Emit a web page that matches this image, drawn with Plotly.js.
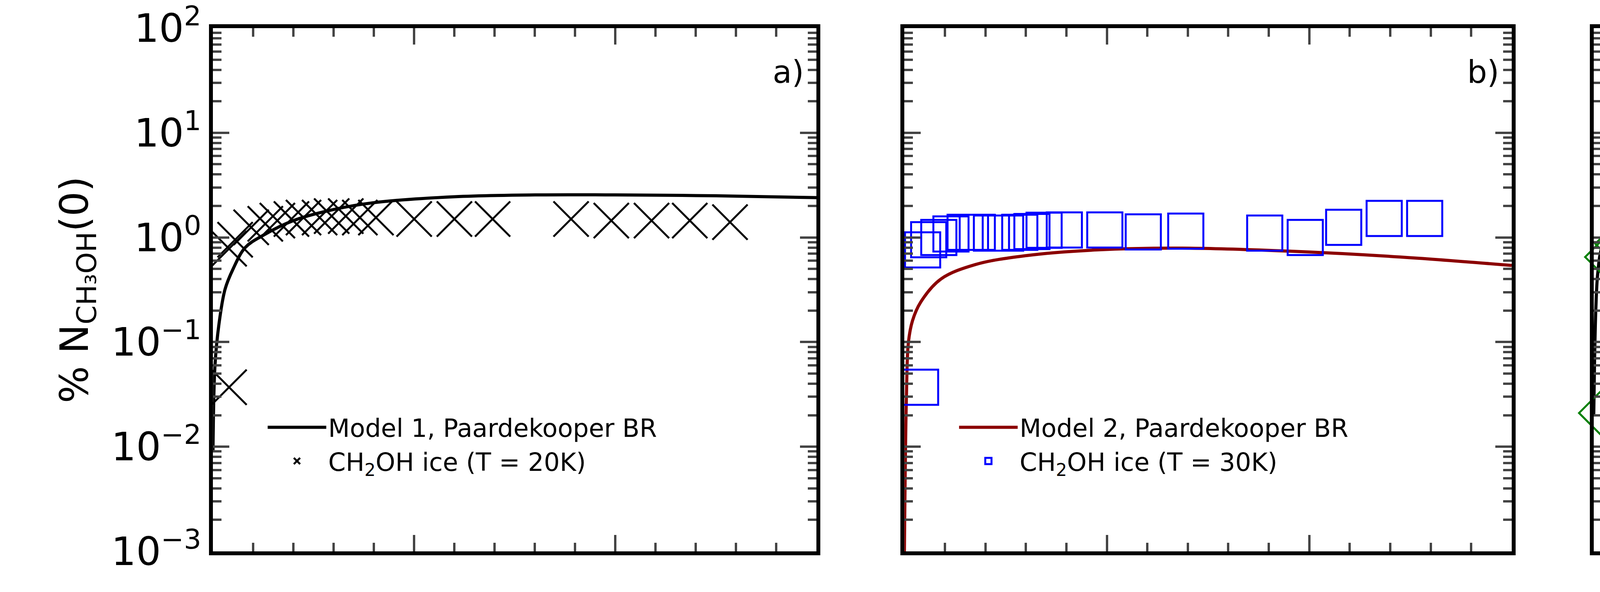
<!DOCTYPE html>
<html>
<head>
<meta charset="utf-8">
<script src="https://cdn.plot.ly/plotly-3.0.1.min.js"></script>
<style>html,body{margin:0;padding:0;background:#fff}#chart{width:7500px;height:1515px}</style>
</head>
<body>
<div id="chart"></div>
<script>
/* Four panels: model curve vs. CH2OH ice points, log y axis */

// panel a) T = 20K
const curveAx = [0, 0.01, 0.03, 0.06, 0.1, 0.16, 0.25, 0.4, 0.6, 0.8, 1.2, 1.6, 2.0, 2.5, 3.0];
const curveAy = [0.009, 0.06, 0.15, 0.32, 0.5, 0.8, 1.05, 1.45, 1.85, 2.15, 2.45, 2.55, 2.55, 2.5, 2.4];
const iceAx = [0.08, 0.08, 0.11, 0.19, 0.26, 0.32, 0.39, 0.45, 0.53, 0.59, 0.66, 0.73, 0.81, 1.0, 1.2, 1.39, 1.78, 1.98, 2.18, 2.37, 2.57];
const iceAy = [0.037, 0.78, 0.95, 1.25, 1.35, 1.45, 1.5, 1.55, 1.55, 1.6, 1.6, 1.55, 1.55, 1.5, 1.5, 1.5, 1.5, 1.45, 1.45, 1.45, 1.4];

// panel b) T = 30K
const curveBx = [0, 0.01, 0.02, 0.04, 0.08, 0.18, 0.35, 0.6, 0.95, 1.37, 1.9, 2.45, 3.0];
const curveBy = [0.001, 0.03, 0.1, 0.16, 0.24, 0.4, 0.55, 0.67, 0.76, 0.79, 0.74, 0.65, 0.54];
const iceBx = [0.08, 0.09, 0.12, 0.17, 0.23, 0.3, 0.36, 0.43, 0.5, 0.57, 0.63, 0.69, 0.79, 0.99, 1.18, 1.39, 1.78, 1.98, 2.17, 2.37, 2.57];
const iceBy = [0.037, 0.76, 0.95, 1.0, 1.08, 1.12, 1.12, 1.1, 1.1, 1.12, 1.14, 1.17, 1.18, 1.18, 1.13, 1.15, 1.1, 1.0, 1.25, 1.52, 1.52];

// panel c) T = 50K
const curveCx = [0, 0.01, 0.02, 0.04, 0.08, 0.17, 0.39, 0.72, 1.16, 1.82, 2.5, 3.0];
const curveCy = [0.02, 0.2, 0.46, 0.8, 1.07, 1.8, 3.3, 4.7, 5.8, 6.3, 6.4, 6.4];
const iceCx = [0.04, 0.07, 0.12, 0.2, 0.26, 0.33, 0.4, 0.46, 0.53, 0.59, 0.66, 0.73, 0.8, 0.8, 1.0, 1.19, 1.39, 1.78, 1.98, 2.17, 2.37, 2.57];
const iceCy = [0.021, 0.65, 0.87, 0.91, 1.0, 1.05, 1.05, 1.08, 1.1, 1.1, 1.1, 1.1, 1.1, 1.1, 1.1, 1.08, 1.03, 1.0, 0.97, 0.97, 0.97, 0.97];

// panel d) T = 70K
const curveDx = [0, 0.005, 0.01, 0.03, 0.06, 0.12, 0.25, 0.46, 0.9, 1.54, 2.2, 3.0];
const curveDy = [0.001, 0.05, 0.19, 0.9, 2.1, 4.3, 6.3, 7.9, 10.6, 12.6, 13.3, 13.7];
const iceDx = [0.06, 0.07, 0.12, 0.19, 0.26, 0.33, 0.4, 0.46, 0.53, 0.59, 0.66, 0.72, 0.79, 1.0, 1.18, 1.39, 1.78, 1.98, 2.17, 2.37, 2.57];
const iceDy = [0.012, 0.59, 0.71, 0.76, 0.76, 0.76, 0.75, 0.77, 0.8, 0.83, 0.82, 0.83, 0.8, 0.82, 0.83, 0.8, 0.76, 0.8, 0.78, 0.74, 0.72];

const yTickVals = [0.001, 0.01, 0.1, 1, 10, 100];
const yTickText = ['10<sup>−3</sup>', '10<sup>−2</sup>', '10<sup>−1</sup>', '10<sup>0</sup>', '10<sup>1</sup>', '10<sup>2</sup>'];
const panelLabels = ['a)', 'b)', 'c)', 'd)'];

// minor log ticks 2..9 in each decade
const yMinorVals = [];
[0.001, 0.01, 0.1, 1, 10].forEach(d => { for (let k = 2; k <= 9; k++) yMinorVals.push(d * k); });

const panels = [
  { cx: curveAx, cy: curveAy, ix: iceAx, iy: iceAy, lineColor: 'black', model: 'Model 1, Paardekooper BR',
    sym: 'x-thin-open', mColor: 'black', temp: '20K' },
  { cx: curveBx, cy: curveBy, ix: iceBx, iy: iceBy, lineColor: '#8b0000', model: 'Model 2, Paardekooper BR',
    sym: 'square-open', mColor: 'blue', temp: '30K' },
  { cx: curveCx, cy: curveCy, ix: iceCx, iy: iceCy, lineColor: 'black', model: 'Model 1, Paardekooper BR',
    sym: 'diamond-open', mColor: 'green', temp: '50K' },
  { cx: curveDx, cy: curveDy, ix: iceDx, iy: iceDy, lineColor: 'black', model: 'Model 1, Paardekooper BR',
    sym: 'triangle-up-open', mColor: 'red', temp: '70K' }
];

const domains = [[0.0727, 0.2787], [0.3087, 0.516], [0.544, 0.752], [0.7807, 0.988]];
const FONT = 'DejaVu Sans, sans-serif';

const data = [];
const layout = {
  width: 7500, height: 1515,
  margin: { l: 0, r: 0, t: 0, b: 0 },
  paper_bgcolor: 'white', plot_bgcolor: 'white',
  font: { family: FONT, color: 'black', size: 62 },
  showlegend: true,
  annotations: []
};

panels.forEach((p, i) => {
  const n = i + 1;
  const xa = n === 1 ? 'x' : 'x' + n;
  const ya = n === 1 ? 'y' : 'y' + n;
  const lg = n === 1 ? 'legend' : 'legend' + n;
  data.push({
    type: 'scatter', mode: 'lines', x: p.cx, y: p.cy, xaxis: xa, yaxis: ya, legend: lg,
    name: p.model, line: { color: p.lineColor, width: 8, shape: 'spline', smoothing: 1 }
  });
  data.push({
    type: 'scatter', mode: 'markers', x: p.ix, y: p.iy, xaxis: xa, yaxis: ya, legend: lg,
    name: 'CH<sub>2</sub>OH ice (T = ' + p.temp + ')', cliponaxis: false,
    marker: { symbol: p.sym, size: 90, color: p.mColor, line: { color: p.mColor, width: 5 } }
  });
  const axKey = n === 1 ? '' : String(n);
  layout['xaxis' + axKey] = {
    domain: domains[i], anchor: ya, range: [0, 3],
    showline: true, linewidth: 10, linecolor: 'black', mirror: 'ticks',
    ticks: 'inside', tickmode: 'linear', tick0: 0, dtick: 1, ticklen: 42, tickwidth: 6,
    showticklabels: false, showgrid: false, zeroline: false,
    minor: { ticks: 'inside', tickmode: 'linear', tick0: 0, dtick: 0.2, ticklen: 22, tickwidth: 6, showgrid: false }
  };
  layout['yaxis' + axKey] = {
    domain: [0.0686, 0.9525], anchor: xa, type: 'log', range: [-3.0005, 2.0005],
    showline: true, linewidth: 10, linecolor: 'black', mirror: 'ticks',
    ticks: 'inside', tickmode: 'array', tickvals: yTickVals, ticktext: yTickText, ticklen: 42, tickwidth: 6,
    showticklabels: n === 1, tickfont: { size: 100, family: FONT }, showgrid: false, zeroline: false,
    minor: { ticks: 'inside', tickmode: 'array', tickvals: yMinorVals, ticklen: 22, tickwidth: 6, showgrid: false }
  };
  if (n === 1) {
    layout.yaxis.title = { text: '% N<sub>CH₃OH</sub>(0)', font: { size: 100, family: FONT }, standoff: 30 };
  }
  layout[lg] = {
    x: domains[i][0] + 0.018, y: 0.31, xanchor: 'left', yanchor: 'top',
    bgcolor: 'rgba(0,0,0,0)', font: { size: 64, family: FONT }, itemwidth: 150,
    tracegroupgap: 10
  };
  layout.annotations.push({
    xref: 'paper', yref: 'paper', x: domains[i][1] - 0.004, y: 0.91,
    xanchor: 'right', yanchor: 'top', text: panelLabels[i], showarrow: false,
    font: { size: 80, family: FONT }
  });
});

Plotly.newPlot('chart', data, layout, { displayModeBar: false, staticPlot: true });
</script>
</body>
</html>
